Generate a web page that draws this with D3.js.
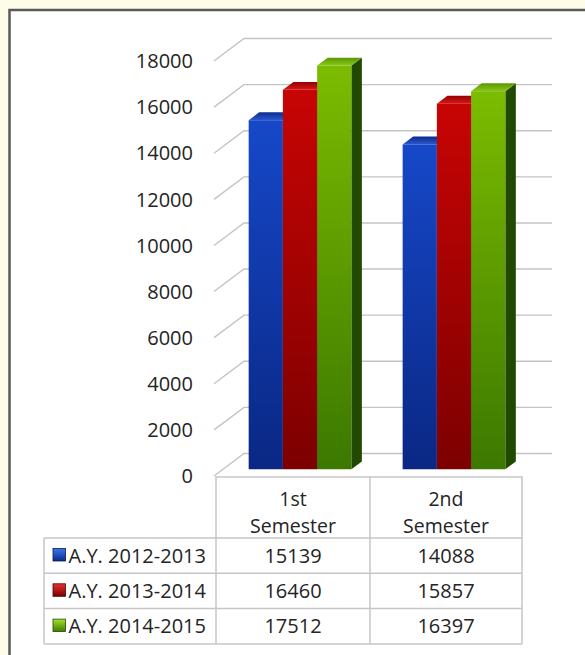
<!DOCTYPE html>
<html>
<head>
<meta charset="utf-8">
<script src="https://cdn.jsdelivr.net/npm/d3@7"></script>
<style>
  html, body { margin: 0; padding: 0; background: #fcfce8; }
  svg { display: block; }
  text { font-family: "Open Sans", sans-serif; fill: #242424; }
</style>
</head>
<body>
<svg id="chart" width="585" height="655"></svg>
<script>
// data
const categories = ["1st Semester", "2nd Semester"];
const categoryLines = [["1st", "Semester"], ["2nd", "Semester"]];
const series = ["A.Y. 2012-2013", "A.Y. 2013-2014", "A.Y. 2014-2015"];
const values = [
    [15139, 14088],
    [16460, 15857],
    [17512, 16397]
];
const yTicks = [0, 2000, 4000, 6000, 8000, 10000, 12000, 14000, 16000, 18000];

const colors = [
    { front: ["#1648c8", "#0a2784"], top: ["#2a58cc", "#0c2c90"], side: "#061a5a", mark: ["#3a78e8", "#0a2a8c"] },
    { front: ["#c80404", "#7c0000"], top: ["#d41818", "#960000"], side: "#480000", mark: ["#e83030", "#7a0000"] },
    { front: ["#7cbc00", "#3c7800"], top: ["#8ac618", "#589800"], side: "#214a00", mark: ["#a8e030", "#3e7c00"] }
];

const svg = d3.select("#chart");

// outer frame
svg.append("rect").attr("x", 9.5).attr("y", 10).attr("width", 640).attr("height", 700)
    .attr("fill", "#fff").attr("stroke", "#595959").attr("stroke-width", 2.5);

// 3d geometry
const depth = { x: 30, y: -22.5 };
const barShift = 0.3, barDepth = 0.35;
const frontLeft = 214, frontRight = 522;

const y = d3.scaleLinear().domain([0, 18000]).range([476, 61]);
const x = d3.scaleBand().domain(categories).range([frontLeft, frontRight])
    .paddingInner(0.333).paddingOuter(0.1667);
const xs = d3.scaleBand().domain(series).range([0, x.bandwidth()]);

const defs = svg.append("defs");
colors.forEach((c, i) => {
    const gf = defs.append("linearGradient").attr("id", "front" + i)
        .attr("x1", 0).attr("y1", 0).attr("x2", 0).attr("y2", 1);
    gf.append("stop").attr("offset", "0%").attr("stop-color", c.front[0]);
    gf.append("stop").attr("offset", "100%").attr("stop-color", c.front[1]);
    const gt = defs.append("linearGradient").attr("id", "top" + i)
        .attr("x1", 0).attr("y1", 1).attr("x2", 0).attr("y2", 0);
    gt.append("stop").attr("offset", "0%").attr("stop-color", c.top[0]);
    gt.append("stop").attr("offset", "100%").attr("stop-color", c.top[1]);
    const gm = defs.append("linearGradient").attr("id", "mark" + i)
        .attr("x1", 0).attr("y1", 0).attr("x2", 0).attr("y2", 1);
    gm.append("stop").attr("offset", "0%").attr("stop-color", c.mark[0]);
    gm.append("stop").attr("offset", "100%").attr("stop-color", c.mark[1]);
});

// gridlines: side wall diagonals + back wall
const grid = svg.append("g").attr("stroke", "#c4c4c4").attr("stroke-width", 1.4).attr("fill", "none");
yTicks.forEach(t => {
    grid.append("path").attr("d", d3.line()([
        [frontLeft, y(t)],
        [frontLeft + depth.x, y(t) + depth.y],
        [frontRight + depth.x, y(t) + depth.y]
    ]));
});

// tick labels
svg.append("g").selectAll("text").data(yTicks).join("text")
    .attr("x", frontLeft - 21).attr("y", d => y(d)).attr("dy", "0.36em")
    .attr("text-anchor", "end").attr("font-size", 20).text(d => d);

// bars, drawn left to right so each front face hides the previous side
const bars = svg.append("g");
categories.forEach((cat, ci) => {
    series.forEach((s, si) => {
        const v = values[si][ci];
        const x0 = x(cat) + xs(s) + depth.x * barShift;
        const x1 = x0 + xs.bandwidth();
        const yt = y(v) + depth.y * barShift;
        const yb = y(0) + depth.y * barShift;
        const dx = depth.x * barDepth, dy = depth.y * barDepth;
        bars.append("path").attr("fill", colors[si].side)
            .attr("d", d3.line()([[x1, yt], [x1 + dx, yt + dy], [x1 + dx, yb + dy], [x1, yb]]) + "Z");
        bars.append("path").attr("fill", `url(#top${si})`)
            .attr("d", d3.line()([[x0, yt], [x1, yt], [x1 + dx, yt + dy], [x0 + dx, yt + dy]]) + "Z");
        bars.append("rect").attr("x", x0).attr("y", yt).attr("width", x1 - x0).attr("height", yb - yt)
            .attr("fill", `url(#front${si})`);
    });
});

// data table
const rowTop = 538, rowH = 35.3, legLeft = 44;
const colEdges = [frontLeft + 2, frontLeft + 2 + x.step(), frontRight];
const table = svg.append("g").attr("stroke", "#c6c6c6").attr("stroke-width", 1.5).attr("fill", "none");
table.append("path").attr("d", d3.line()([
    [colEdges[0], rowTop], [colEdges[0], 477], [colEdges[2], 477], [colEdges[2], rowTop + 3 * rowH]
]));
table.append("line").attr("x1", colEdges[1]).attr("x2", colEdges[1]).attr("y1", 477).attr("y2", rowTop + 3 * rowH);
d3.range(4).forEach(r => {
    table.append("line").attr("x1", legLeft).attr("x2", colEdges[2])
        .attr("y1", rowTop + r * rowH).attr("y2", rowTop + r * rowH);
});
table.append("line").attr("x1", legLeft).attr("x2", legLeft).attr("y1", rowTop).attr("y2", rowTop + 3 * rowH);
table.append("line").attr("x1", colEdges[0]).attr("x2", colEdges[0]).attr("y1", rowTop).attr("y2", rowTop + 3 * rowH);

// header
categories.forEach((cat, ci) => {
    const cx = (colEdges[ci] + colEdges[ci + 1]) / 2;
    categoryLines[ci].forEach((ln, li) => {
        svg.append("text").attr("x", cx).attr("y", 506 + li * 26.5)
            .attr("text-anchor", "middle").attr("font-size", 19.5).text(ln);
    });
});

// rows
series.forEach((s, si) => {
    const ry = rowTop + si * rowH;
    svg.append("rect").attr("x", 53).attr("y", ry + 10.5).attr("width", 12.5).attr("height", 12.5)
        .attr("fill", `url(#mark${si})`).attr("stroke", colors[si].side).attr("stroke-width", 0.8);
    svg.append("text").attr("x", 68.5).attr("y", ry + rowH / 2).attr("dy", "0.36em")
        .attr("font-size", 20).text(s);
    categories.forEach((cat, ci) => {
        svg.append("text").attr("x", (colEdges[ci] + colEdges[ci + 1]) / 2).attr("y", ry + rowH / 2)
            .attr("dy", "0.36em").attr("text-anchor", "middle").attr("font-size", 20)
            .text(values[si][ci]);
    });
});
</script>
</body>
</html>
